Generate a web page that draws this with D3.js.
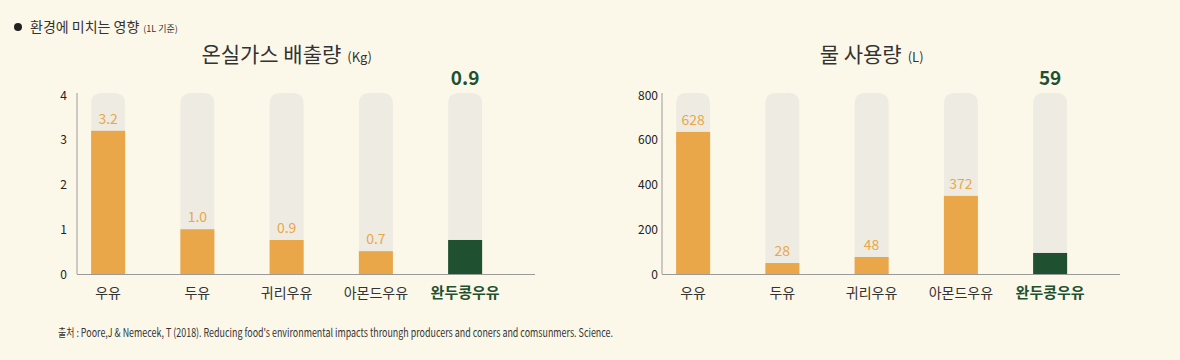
<!DOCTYPE html>
<html><head><meta charset="utf-8">
<script src="https://cdn.jsdelivr.net/npm/d3@7"></script>
<style>
html,body{margin:0;padding:0;background:#fcf8e9;}
svg{display:block;font-family:"Noto Sans CJK KR","Noto Sans",sans-serif;}
</style></head>
<body><svg id="c" width="1180" height="360"></svg>
<script>
// ---- data ----
const categories = ["우유", "두유", "귀리우유", "아몬드우유", "완두콩우유"];
const highlight = "완두콩우유";
// Greenhouse gas (kg): bar heights as drawn, and the printed labels
const ghgBars = [3.2, 1.0, 0.76, 0.51, 0.76];
const ghgLabels = ["3.2", "1.0", "0.9", "0.7", "0.9"];
const ghgTicks = [0, 1, 2, 3, 4];
// Water use (L)
const waterBars = [635, 49, 76, 349, 94];
const waterLabels = ["628", "28", "48", "372", "59"];
const waterTicks = [0, 200, 400, 600, 800];

const headerText = "환경에 미치는 영향";
const headerNote = "(1L 기준)";
const titles = [["온실가스 배출량", "(Kg)"], ["물 사용량", "(L)"]];
const sourceText = "출처 : Poore,J & Nemecek, T (2018). Reducing food's environmental impacts throungh producers and coners and comsunmers. Science.";

// ---- style ----
const C = {bg:"#eeebe2", orange:"#eaa74a", green:"#1f5130", text:"#2b2b2b", axis:"#9a9a9a"};

const svg = d3.select("#c");

// header
svg.append("circle").attr("cx", 18).attr("cy", 27).attr("r", 4).attr("fill", "#222");
const h = svg.append("text").attr("x", 30).attr("y", 32).attr("fill", "#333").style("font-size", "14px");
h.append("tspan").text(headerText);
h.append("tspan").attr("dx", 4).style("font-size", "9px").text(headerNote);

function chart(offset, bars, labels, ticks, title, tickGap) {
  const g = svg.append("g").attr("transform", `translate(${offset},0)`);
  const axisX = 77, axisEnd = 535;
  const x = d3.scaleBand().domain(categories).range([63.5, 509.75]).paddingInner(0.619).paddingOuter(0.3095);
  const y = d3.scaleLinear().domain([0, d3.max(ticks)]).range([274, 95]);
  const bw = x.bandwidth(), r = 11;
  const top = y(d3.max(ticks)) - 2;

  // title
  const cx = x(categories[2]) + bw / 2;
  const t = g.append("text").attr("x", cx).attr("y", 62).attr("text-anchor", "middle")
    .attr("fill", "#333").style("font-size", "21px");
  t.append("tspan").text(title[0]);
  t.append("tspan").attr("dx", 6).style("font-size", "13px").text(title[1]);

  // background rounded bars
  g.selectAll("path.bgbar").data(categories).join("path").attr("class", "bgbar")
    .attr("fill", C.bg)
    .attr("d", c => {
      const x0 = x(c), x1 = x0 + bw, yb = y(0);
      return `M${x0},${yb}V${top + r}Q${x0},${top} ${x0 + r},${top}H${x1 - r}Q${x1},${top} ${x1},${top + r}V${yb}Z`;
    });

  // value bars
  g.selectAll("rect.bar").data(bars).join("rect").attr("class", "bar")
    .attr("x", (d, i) => x(categories[i])).attr("width", bw)
    .attr("y", d => y(d)).attr("height", d => y(0) - y(d))
    .attr("fill", (d, i) => categories[i] === highlight ? C.green : C.orange);

  // value labels
  g.selectAll("text.val").data(bars).join("text").attr("class", "val")
    .attr("x", (d, i) => x(categories[i]) + bw / 2)
    .attr("y", (d, i) => categories[i] === highlight ? 85 : y(d) - 7)
    .attr("text-anchor", "middle")
    .attr("fill", (d, i) => categories[i] === highlight ? C.green : C.orange)
    .style("font-size", (d, i) => categories[i] === highlight ? "19px" : "14px")
    .style("font-weight", (d, i) => categories[i] === highlight ? "bold" : "normal")
    .text((d, i) => labels[i]);

  // axes
  g.append("line").attr("x1", axisX).attr("x2", axisX).attr("y1", top).attr("y2", y(0))
    .attr("stroke", C.axis).attr("stroke-width", 1);
  g.append("line").attr("x1", axisX).attr("x2", axisEnd).attr("y1", y(0) + 0.5).attr("y2", y(0) + 0.5)
    .attr("stroke", C.axis).attr("stroke-width", 1.2);

  g.selectAll("text.tick").data(ticks).join("text").attr("class", "tick")
    .attr("x", axisX - tickGap).attr("y", d => y(d) + 0.5).attr("dy", "0.35em")
    .attr("text-anchor", "end").attr("fill", "#222").style("font-size", "12px")
    .text(d => d);

  // category labels
  g.selectAll("text.cat").data(categories).join("text").attr("class", "cat")
    .attr("x", c => x(c) + bw / 2).attr("y", 298).attr("text-anchor", "middle")
    .attr("fill", c => c === highlight ? C.green : "#333")
    .style("font-size", c => c === highlight ? "15px" : "14px")
    .style("font-weight", c => c === highlight ? "bold" : "normal")
    .text(c => c);
}

chart(0, ghgBars, ghgLabels, ghgTicks, titles[0], 10);
chart(585, waterBars, waterLabels, waterTicks, titles[1], 4);

svg.append("text").attr("x", 58).attr("y", 337).attr("fill", "#333")
  .style("font-size", "11.5px").attr("textLength", 555).attr("lengthAdjust", "spacingAndGlyphs")
  .text(sourceText);
</script></body></html>
